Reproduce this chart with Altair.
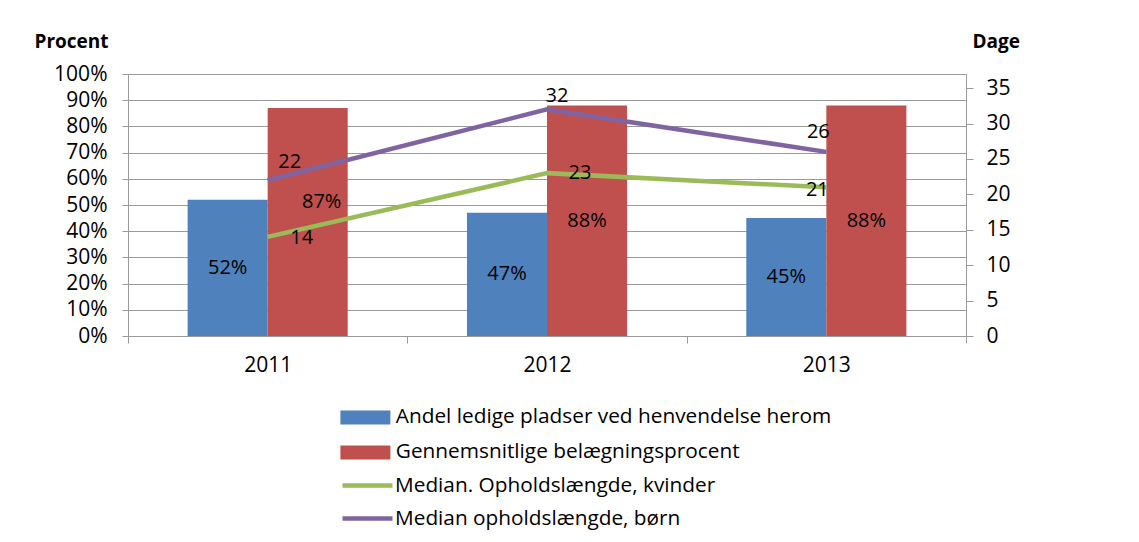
import altair as alt
import pandas as pd

# ---- data ----
years = ["2011", "2012", "2013"]
bar_series = ["Andel ledige pladser ved henvendelse herom", "Gennemsnitlige belægningsprocent"]
line_series = ["Median. Opholdslængde, kvinder", "Median opholdslængde, børn"]
andel_ledige = [0.52, 0.47, 0.45]
belaegning = [0.87, 0.88, 0.88]
median_kvinder = [14, 23, 21]
median_boern = [22, 32, 26]

bar_colors = ["#4F81BD", "#C0504D"]
line_colors = ["#9BBB59", "#8064A2"]

bars_df = pd.DataFrame(
    [{"year": y, "series": bar_series[0], "value": v} for y, v in zip(years, andel_ledige)]
    + [{"year": y, "series": bar_series[1], "value": v} for y, v in zip(years, belaegning)]
)
lines_df = pd.DataFrame(
    [{"year": y, "series": line_series[0], "value": v} for y, v in zip(years, median_kvinder)]
    + [{"year": y, "series": line_series[1], "value": v} for y, v in zip(years, median_boern)]
)

FONT = "Open Sans"
GRID = "#9a9a9a"

# label offsets (style only)
bar_label_offsets = {("2011", 1): (14, -20)}
line_label_offsets = {
    (0, "2011"): (34, 1), (0, "2012"): (33, 0), (0, "2013"): (-9, 3),
    (1, "2011"): (22, -18), (1, "2012"): (10, -13), (1, "2013"): (-8, -20),
}

x_enc = alt.X(
    "year:N",
    sort=years,
    scale=alt.Scale(paddingInner=0, paddingOuter=0),
    axis=alt.Axis(
        title=None, labelAngle=0, tickBand="extent", tickSize=7, tickColor=GRID,
        domainColor=GRID, labelFont=FONT, labelFontSize=21, labelColor="#000",
        labelBaseline="middle", labelPadding=22, grid=False,
    ),
)
xoff_enc = alt.XOffset("series:N", sort=bar_series,
                       scale=alt.Scale(domain=bar_series, paddingOuter=0.745, paddingInner=0))

y_left_scale = alt.Scale(domain=[0, 1], nice=False)
y_left_axis = alt.Axis(
    values=[i / 10 for i in range(11)], format=".0%", grid=True, gridColor=GRID,
    domainColor=GRID, tickColor=GRID, tickSize=6, labelPadding=15,
    labelFont=FONT, labelFontSize=21, labelColor="#000",
    title="Procent", titleAngle=0, titleX=-94, titleY=-27, titleAlign="left",
    titleBaseline="alphabetic", titleFont=FONT, titleFontSize=19, titleFontWeight="bold",
    titleColor="#000",
)

bars = alt.Chart(bars_df).mark_bar().encode(
    x=x_enc,
    xOffset=xoff_enc,
    y=alt.Y("value:Q", scale=y_left_scale, axis=y_left_axis),
    fill=alt.Fill(
        "series:N", sort=bar_series,
        scale=alt.Scale(domain=bar_series, range=bar_colors),
        legend=alt.Legend(
            orient="none", legendX=227, legendY=333, title=None,
            symbolType="M-2.5,-0.7H2.5V0.7H-2.5Z", symbolSize=400, symbolStrokeWidth=0,
            labelFont=FONT, labelFontSize=20.8, labelColor="#000", labelOffset=20,
            rowPadding=13, labelLimit=600,
        ),
    ),
)

bar_text_layers = []
special = []
for (yr, si), (dx, dy) in bar_label_offsets.items():
    special.append(f"(datum.year == '{yr}' && datum.series == '{bar_series[si]}')")
cond = " || ".join(special)
bar_text_layers.append(
    alt.Chart(bars_df).transform_filter(f"!({cond})").transform_calculate(mid="datum.value/2")
    .mark_text(font=FONT, fontSize=20, color="#000")
    .encode(x=x_enc, xOffset=xoff_enc, y=alt.Y("mid:Q", scale=y_left_scale, axis=y_left_axis),
            text=alt.Text("value:Q", format=".0%"))
)
for (yr, si), (dx, dy) in bar_label_offsets.items():
    bar_text_layers.append(
        alt.Chart(bars_df)
        .transform_filter(f"datum.year == '{yr}' && datum.series == '{bar_series[si]}'")
        .transform_calculate(mid="datum.value/2")
        .mark_text(font=FONT, fontSize=20, color="#000", dx=dx, dy=dy)
        .encode(x=x_enc, xOffset=xoff_enc, y=alt.Y("mid:Q", scale=y_left_scale, axis=y_left_axis),
                text=alt.Text("value:Q", format=".0%"))
    )

y_right_scale = alt.Scale(domain=[0, 37], nice=False)
y_right_axis = alt.Axis(
    orient="right", values=list(range(0, 36, 5)), grid=False,
    domainColor=GRID, tickColor=GRID, tickSize=7, labelPadding=13,
    labelFont=FONT, labelFontSize=21, labelColor="#000",
    title="Dage", titleAngle=0, titleX=6, titleY=-27, titleAlign="left",
    titleBaseline="alphabetic", titleFont=FONT, titleFontSize=19, titleFontWeight="bold",
    titleColor="#000",
)

lines = alt.Chart(lines_df).mark_line(strokeWidth=4.5).encode(
    x=x_enc,
    y=alt.Y("value:Q", scale=y_right_scale, axis=y_right_axis),
    stroke=alt.Stroke(
        "series:N", sort=line_series,
        scale=alt.Scale(domain=line_series, range=line_colors),
        legend=alt.Legend(
            orient="none", legendX=227, legendY=399, title=None,
            symbolType="M-2.5,0H2.5", symbolSize=400, symbolStrokeWidth=4.5,
            labelFont=FONT, labelFontSize=20.8, labelColor="#000", labelOffset=15,
            rowPadding=10, labelLimit=600,
        ),
    ),
)

line_text_layers = []
for (si, yr), (dx, dy) in line_label_offsets.items():
    line_text_layers.append(
        alt.Chart(lines_df)
        .transform_filter(f"datum.year == '{yr}' && datum.series == '{line_series[si]}'")
        .mark_text(font=FONT, fontSize=20, color="#000", dx=dx, dy=dy)
        .encode(x=x_enc, y=alt.Y("value:Q", scale=y_right_scale, axis=y_right_axis),
                text=alt.Text("value:Q"))
    )

left = alt.layer(bars, *bar_text_layers)
right = alt.layer(lines, *line_text_layers)

chart = (
    alt.layer(left, right)
    .resolve_scale(y="independent", fill="independent", stroke="independent")
    .properties(
        width=838, height=262,
        autosize=alt.AutoSizeParams(type="none"),
        padding={"left": 120, "top": 66, "right": 165, "bottom": 198},
        background="#ffffff",
    )
    .configure_view(stroke=None)
)

chart.save("out.html", embed_options={"renderer": "svg", "actions": False})
